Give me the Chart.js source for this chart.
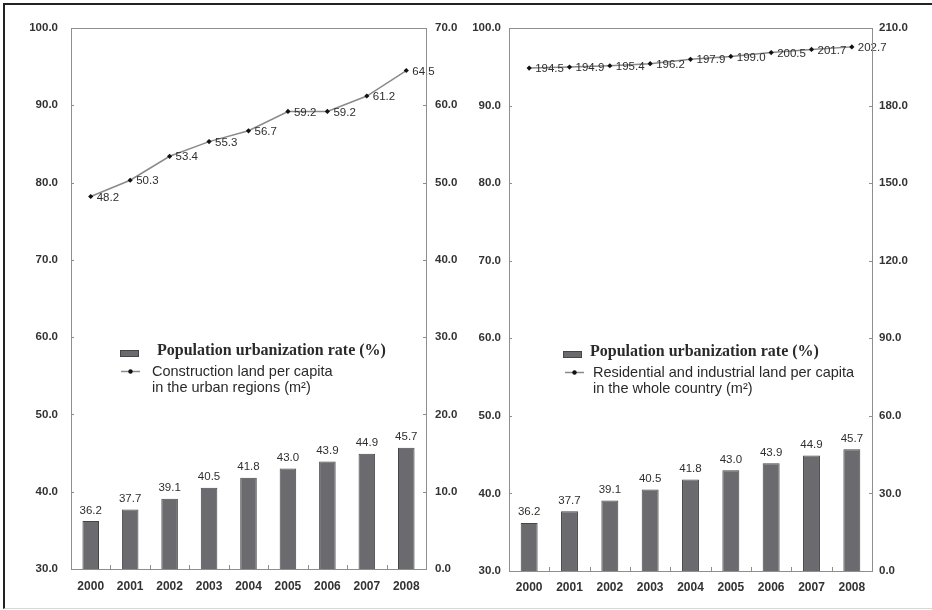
<!DOCTYPE html>
<html>
<head>
<meta charset="utf-8">
<script src="https://cdn.jsdelivr.net/npm/chart.js@4.4.1/dist/chart.umd.min.js"></script>
<style>
    html, body { margin: 0; padding: 0; background: #ffffff; }
    body { width: 932px; height: 610px; position: relative; overflow: hidden; }
    #frame {
        position: absolute; left: 3px; top: 3px; width: 929px; height: 603px;
        border-top: 2px solid #222; border-left: 2px solid #222; border-bottom: 1px solid #d8d8d8;
    }
    .box { position: absolute; top: 0; width: 466px; height: 610px; }
    #boxLeft { left: 0; }
    #boxRight { left: 466px; }
</style>
</head>
<body>
<div id="frame"></div>
<div class="box" id="boxLeft"><canvas id="chartLeft"></canvas></div>
<div class="box" id="boxRight"><canvas id="chartRight"></canvas></div>

<script>
// Dados
const years = ['2000', '2001', '2002', '2003', '2004', '2005', '2006', '2007', '2008'];
const urbanizationRate = [36.2, 37.7, 39.1, 40.5, 41.8, 43.0, 43.9, 44.9, 45.7];
const constructionLandUrban = [48.2, 50.3, 53.4, 55.3, 56.7, 59.2, 59.2, 61.2, 64.5];
const residentialLandCountry = [194.5, 194.9, 195.4, 196.2, 197.9, 199.0, 200.5, 201.7, 202.7];

const barLabel = 'Population urbanization rate (%)';
const lineLabelLeft = ['Construction land per capita', 'in the urban regions (m\u00B2)'];
const lineLabelRight = ['Residential and industrial land per capita', 'in the whole country (m\u00B2)'];

// Cores
const BAR_COLOR = '#6b6b6f';
const BAR_BORDER = '#464648';
const LINE_COLOR = '#8a8a8a';
const POINT_COLOR = '#111111';
const TEXT_COLOR = '#333333';
const FRAME_COLOR = '#8e8e8e';

Chart.defaults.font.family = '"Liberation Sans", Arial, sans-serif';
Chart.defaults.color = TEXT_COLOR;

// Caixa do gráfico e pequenos traços de escala voltados para dentro
const frameTicks = {
    id: 'frameTicks',
    afterDraw(chart) {
        const { ctx, chartArea: a, scales } = chart;
        ctx.save();
        ctx.strokeStyle = FRAME_COLOR;
        ctx.lineWidth = 1;
        ctx.strokeRect(Math.round(a.left) + 0.5, Math.round(a.top) + 0.5,
            Math.round(a.right - a.left), Math.round(a.bottom - a.top));
        ctx.beginPath();
        scales.y.ticks.forEach(t => {
            const py = Math.round(scales.y.getPixelForValue(t.value)) + 0.5;
            ctx.moveTo(a.left, py); ctx.lineTo(a.left + 3, py);
        });
        scales.y1.ticks.forEach(t => {
            const py = Math.round(scales.y1.getPixelForValue(t.value)) + 0.5;
            ctx.moveTo(a.right - 3, py); ctx.lineTo(a.right, py);
        });
        for (let i = 0; i < years.length - 1; i++) {
            const px = Math.round((scales.x.getPixelForValue(i) + scales.x.getPixelForValue(i + 1)) / 2) + 0.5;
            ctx.moveTo(px, a.bottom); ctx.lineTo(px, a.bottom - 4);
        }
        ctx.stroke();
        ctx.restore();
    }
};

// Rótulos de valores nas barras e nos pontos
const valueLabels = {
    id: 'valueLabels',
    afterDatasetsDraw(chart) {
        const { ctx } = chart;
        ctx.save();
        ctx.font = '11.5px "Liberation Sans", Arial, sans-serif';
        ctx.fillStyle = '#2e2e2e';
        chart.data.datasets.forEach((ds, di) => {
            const meta = chart.getDatasetMeta(di);
            meta.data.forEach((el, i) => {
                const txt = ds.data[i].toFixed(1);
                if (ds.type === 'bar') {
                    ctx.textAlign = 'center';
                    ctx.textBaseline = 'bottom';
                    ctx.fillText(txt, el.x, el.y - 5);
                } else {
                    ctx.textAlign = 'left';
                    ctx.textBaseline = 'middle';
                    ctx.fillText(txt, el.x + 6, el.y + 1);
                }
            });
        });
        ctx.restore();
    }
};

// Legenda desenhada dentro da área do gráfico
const insideLegend = {
    id: 'insideLegend',
    afterDraw(chart, args, opts) {
        const { ctx } = chart;
        ctx.save();
        // amostra da barra
        ctx.fillStyle = BAR_COLOR;
        ctx.fillRect(opts.sx, opts.sy, 19, 7);
        ctx.strokeStyle = BAR_BORDER;
        ctx.lineWidth = 1;
        ctx.strokeRect(opts.sx + 0.5, opts.sy + 0.5, 18, 6);
        ctx.fillStyle = '#2a2a2a';
        ctx.font = 'bold 16px "Liberation Serif", "Times New Roman", serif';
        ctx.textAlign = 'left';
        ctx.textBaseline = 'alphabetic';
        ctx.fillText(barLabel, opts.tx1, opts.sy + 5);
        // amostra da linha
        const ly = opts.sy + 21.5;
        ctx.strokeStyle = LINE_COLOR;
        ctx.lineWidth = 1.5;
        ctx.beginPath();
        ctx.moveTo(opts.lx, ly);
        ctx.lineTo(opts.lx + 19, ly);
        ctx.stroke();
        ctx.fillStyle = POINT_COLOR;
        ctx.beginPath();
        ctx.arc(opts.lx + 9.5, ly, 2.2, 0, Math.PI * 2);
        ctx.fill();
        ctx.fillStyle = '#2a2a2a';
        ctx.font = '14.5px "Liberation Sans", Arial, sans-serif';
        ctx.textBaseline = 'middle';
        opts.lines.forEach((t, i) => ctx.fillText(t, opts.tx2, ly + i * 16.5));
        ctx.restore();
    }
};

function buildChart(canvasId, lineData, rightMax, rightStep, geo, legendOpts) {
    const ctx = document.getElementById(canvasId);
    return new Chart(ctx, {
        data: {
            labels: years,
            datasets: [
                {
                    type: 'line',
                    label: legendOpts.lines.join(' '),
                    data: lineData,
                    yAxisID: 'y1',
                    borderColor: LINE_COLOR,
                    borderWidth: 1.5,
                    pointStyle: 'rectRot',
                    pointRadius: 2.6,
                    pointBackgroundColor: POINT_COLOR,
                    pointBorderColor: POINT_COLOR,
                    pointBorderWidth: 0,
                    tension: 0,
                    order: 0
                },
                {
                    type: 'bar',
                    label: barLabel,
                    data: urbanizationRate,
                    yAxisID: 'y',
                    backgroundColor: BAR_COLOR,
                    borderColor: BAR_BORDER,
                    borderWidth: 1,
                    barPercentage: 0.42,
                    categoryPercentage: 1,
                    order: 1
                }
            ]
        },
        options: {
            responsive: true,
            maintainAspectRatio: false,
            animation: false,
            layout: { padding: { top: geo.top, bottom: 0, left: 0, right: 0 } },
            plugins: {
                legend: { display: false },
                tooltip: { enabled: false },
                insideLegend: legendOpts
            },
            scales: {
                x: {
                    offset: true,
                    grid: { display: false, drawTicks: false },
                    border: { display: false },
                    ticks: {
                        padding: geo.xPad,
                        color: TEXT_COLOR,
                        font: { size: 12, weight: 'bold' },
                        maxRotation: 0
                    },
                    afterFit(scale) { scale.height = geo.xHeight; }
                },
                y: {
                    position: 'left',
                    min: 30,
                    max: 100,
                    grid: { display: false, drawTicks: false },
                    border: { display: false },
                    ticks: {
                        stepSize: 10,
                        padding: geo.yPad,
                        color: TEXT_COLOR,
                        font: { size: 11.5, weight: 'bold' },
                        callback: v => v.toFixed(1)
                    },
                    afterFit(scale) { scale.width = geo.yWidth; }
                },
                y1: {
                    position: 'right',
                    min: 0,
                    max: rightMax,
                    grid: { display: false, drawTicks: false },
                    border: { display: false },
                    ticks: {
                        stepSize: rightStep,
                        padding: geo.y1Pad,
                        color: TEXT_COLOR,
                        font: { size: 11.5, weight: 'bold' },
                        callback: v => v.toFixed(1)
                    },
                    afterFit(scale) { scale.width = geo.y1Width; }
                }
            }
        },
        plugins: [frameTicks, valueLabels, insideLegend]
    });
}

buildChart('chartLeft', constructionLandUrban, 70, 10,
    { top: 28, xHeight: 41, xPad: 10, yWidth: 71, yPad: 13, y1Width: 40, y1Pad: 9 },
    { sx: 120, sy: 350, tx1: 157, lx: 121, tx2: 152, lines: lineLabelLeft });

buildChart('chartRight', residentialLandCountry, 210, 30,
    { top: 28, xHeight: 39, xPad: 9, yWidth: 43, yPad: 8, y1Width: 60, y1Pad: 7 },
    { sx: 97, sy: 351, tx1: 124, lx: 99, tx2: 127, lines: lineLabelRight });
</script>
</body>
</html>
